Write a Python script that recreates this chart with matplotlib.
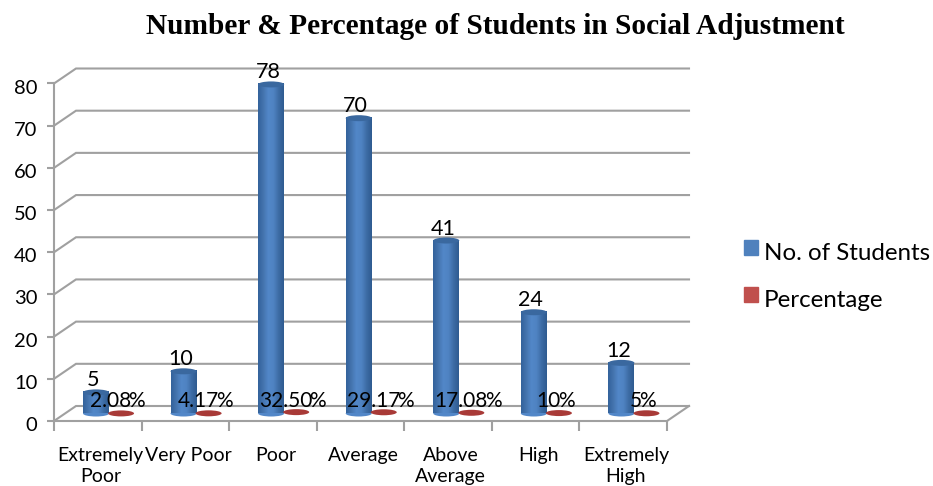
import matplotlib
matplotlib.use('Agg')
import matplotlib.pyplot as plt
import numpy as np
from matplotlib.patches import Ellipse, Rectangle
from matplotlib.colors import LinearSegmentedColormap
from matplotlib.transforms import ScaledTranslation

# Data
categories = ['Extremely\nPoor', 'Very Poor', 'Poor', 'Average', 'Above\nAverage', 'High', 'Extremely\nHigh']
students = [5, 10, 78, 70, 41, 24, 12]
percentage = [0.0208, 0.0417, 0.325, 0.2917, 0.1708, 0.10, 0.05]
pct_numbers = ['2.08', '4.17', '32.50', '29.17', '17.08', '10', '5']
y_ticks = [0, 10, 20, 30, 40, 50, 60, 70, 80]

W, H = 933, 486
X0, X1 = 54, 667     # front floor edge, pixels
Y0, Y80 = 421, 83.5  # front value 0 and 80, pixels
GREY = '#a0a0a0'
TEXT = 'Lato'

fig = plt.figure(figsize=(W / 100, H / 100), dpi=100)
ax = fig.add_axes([X0 / W, 1 - Y0 / H, (X1 - X0) / W, (Y0 - Y80) / H])
ax.set_xlim(0, 7)
ax.set_ylim(0, 80)
ax.patch.set_visible(False)

# depth of the fake 3D box, in data units
dx = 22 / ((X1 - X0) / 7)
dy = 15 / ((Y0 - Y80) / 80)

# walls and floor
for v in y_ticks:
    ax.plot([0, dx, 7 + dx], [v, v + dy, v + dy], color=GREY, lw=1.5, clip_on=False, zorder=1,
            solid_joinstyle='miter')
ax.plot([7, 7 + dx], [0, dy], color=GREY, lw=1.5, clip_on=False, zorder=1)

for side in ['top', 'right']:
    ax.spines[side].set_visible(False)
for side in ['left', 'bottom']:
    ax.spines[side].set_color(GREY)
    ax.spines[side].set_linewidth(1.5)
    ax.spines[side].set_zorder(1)

ax.set_yticks(y_ticks)
ax.tick_params(axis='y', length=5, width=1.5, color=GREY, labelsize=14.5, pad=7)
ax.set_xticks(range(8))
ax.set_xticklabels([])
ax.tick_params(axis='x', which='major', length=7, width=1.5, color=GREY)
ax.set_xticks(np.arange(7) + 0.53, minor=True)
ax.set_xticklabels(categories, minor=True, fontsize=14, linespacing=1.33)
ax.tick_params(axis='x', which='minor', length=0, pad=18.5)
for lab in ax.get_xticklabels(minor=True):
    lab.set_family(TEXT)
down = ScaledTranslation(0, -3 / 100, fig.dpi_scale_trans)
for lab in ax.get_yticklabels():
    lab.set_family(TEXT)
    lab.set_transform(lab.get_transform() + down)

# cylinders
bar_w = 26 / ((X1 - X0) / 7)
cyl_h = 6 / ((Y0 - Y80) / 80)
blue_off = 0.354
red_off = 0.64
blue_map = LinearSegmentedColormap.from_list('cyl', ['#33629b', '#4474ae', '#5287c8', '#4f83c2', '#3d6ca5', '#2f5b90'])
grad = np.linspace(0, 1, 64).reshape(1, -1)

for i, v in enumerate(students):
    cx = i + dx / 2 + blue_off
    base = dy / 2
    top = base + v
    ax.imshow(grad, cmap=blue_map, extent=[cx - bar_w / 2, cx + bar_w / 2, base, top],
              aspect='auto', zorder=3, clip_on=False)
    foot = Ellipse((cx, base), bar_w, cyl_h, facecolor='#5287c8', edgecolor='none', zorder=2.9, clip_on=False)
    ax.add_patch(foot)
    cap = Ellipse((cx, top), bar_w, cyl_h, facecolor='#3a689f', edgecolor='none', zorder=3.1, clip_on=False)
    ax.add_patch(cap)
    ax.annotate(str(v), xy=(cx, top), xytext=(-3, 12), textcoords='offset pixels', ha='center', va='center',
                fontsize=15.5, family=TEXT, color='black', zorder=6, annotation_clip=False)

ax.set_xlim(0, 7)
ax.set_ylim(0, 80)

for i, v in enumerate(percentage):
    cx = i + dx / 2 + red_off
    disc = Ellipse((cx, dy / 2 + v), bar_w, cyl_h, facecolor='#a83a37', edgecolor='none', zorder=4, clip_on=False)
    ax.add_patch(disc)

# percentage labels: the % sign runs into the last digit, as in the original
renderer = fig.canvas.get_renderer()
OVERLAP = 3
for i, num in enumerate(pct_numbers):
    cx = i + dx / 2 + red_off
    y = dy / 2
    t1 = ax.annotate(num, xy=(cx, y), xytext=(0, 13), textcoords='offset pixels', ha='left', va='center',
                     fontsize=15, family=TEXT, zorder=6, annotation_clip=False)
    t2 = ax.annotate('%', xy=(cx, y), xytext=(0, 13), textcoords='offset pixels', ha='left', va='center',
                     fontsize=15, family=TEXT, zorder=6, annotation_clip=False)
    w1 = t1.get_window_extent(renderer).width
    w2 = t2.get_window_extent(renderer).width
    left = -3.5 - (w1 + w2 - OVERLAP) / 2
    t1.set_position((left, 13))
    t2.set_position((left + w1 - OVERLAP, 13))

# legend
handles = [Rectangle((0, 0), 1, 1, color='#4f81bd'), Rectangle((0, 0), 1, 1, color='#c0504d')]
leg = fig.legend(handles, ['No. of Students', 'Percentage'], loc='upper left', bbox_to_anchor=(744 / W, 1 - 243 / H),
                 frameon=False, prop={'family': TEXT, 'size': 17.4}, handlelength=0.58, handleheight=0.58,
                 handletextpad=0.23, labelspacing=1.08, borderpad=0, borderaxespad=0)
for h in leg.legend_handles:
    h.set_y(h.get_y() + 3.0)

fig.text(495 / W, 1 - 26 / H, 'Number & Percentage of Students in Social Adjustment', ha='center', va='center',
         family='Liberation Serif', fontweight='bold', fontsize=21.15)

fig.savefig('out.png', dpi=100)
plt.close()
